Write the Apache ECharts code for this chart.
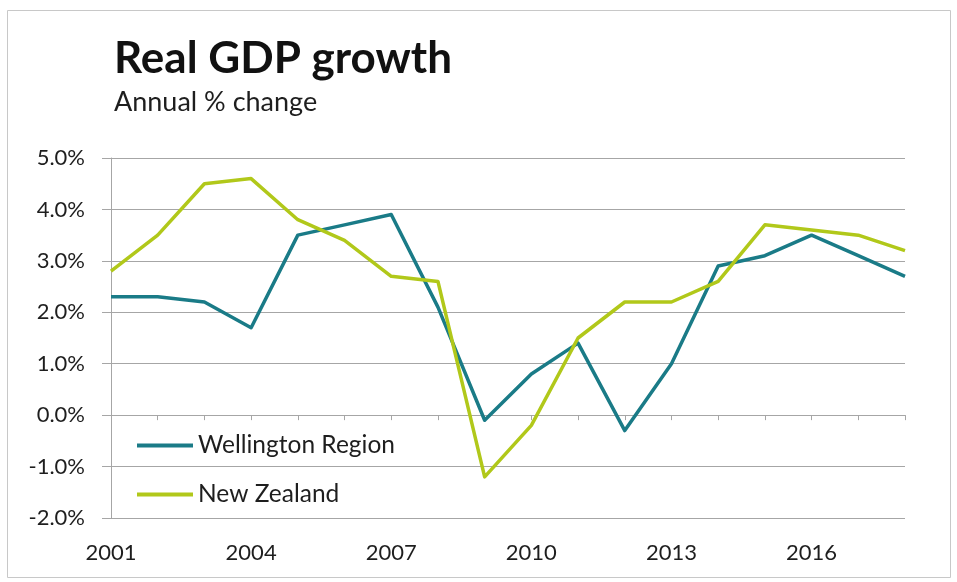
<!DOCTYPE html>
<html>
<head>
<meta charset="utf-8">
<script src="https://cdn.jsdelivr.net/npm/echarts@6/dist/echarts.min.js"></script>
<style>
  html, body { margin: 0; padding: 0; background: #ffffff; }
  #chart { width: 957px; height: 582px; }
</style>
</head>
<body>
<div id="chart"></div>
<script>
// Annual real GDP growth, % change on previous year
const years = ['2001','2002','2003','2004','2005','2006','2007','2008','2009',
               '2010','2011','2012','2013','2014','2015','2016','2017','2018'];
const wellington = [2.3, 2.3, 2.2, 1.7, 3.5, 3.7, 3.9, 2.1, -0.1,
                    0.8, 1.4, -0.3, 1.0, 2.9, 3.1, 3.5, 3.1, 2.7];
const newZealand = [2.8, 3.5, 4.5, 4.6, 3.8, 3.4, 2.7, 2.6, -1.2,
                    -0.2, 1.5, 2.2, 2.2, 2.6, 3.7, 3.6, 3.5, 3.2];
const seriesNames = ['Wellington Region', 'New Zealand'];

const FONT = 'Lato, "Open Sans", sans-serif';
const TEXT = '#1e1e1e';
const GRID = '#a6a6a6';

const chart = echarts.init(document.getElementById('chart'), null, { renderer: 'canvas' });

chart.setOption({
  backgroundColor: '#ffffff',
  animation: false,
  textStyle: { fontFamily: FONT, color: TEXT },
  graphic: [{
    type: 'rect',
    shape: { x: 7.5, y: 10.5, width: 943, height: 567 },
    style: { fill: 'none', stroke: '#c8c8c8', lineWidth: 1 },
    silent: true
  }],
  title: [
    {
      text: 'Real GDP growth',
      left: 114, top: 37, padding: 0,
      textStyle: { fontFamily: FONT, fontSize: 44, fontWeight: 'bold', color: '#111' }
    },
    {
      text: 'Annual % change',
      left: 114, top: 89, padding: 0,
      textStyle: { fontFamily: FONT, fontSize: 27, fontWeight: 'normal', color: TEXT }
    }
  ],
  legend: {
    orient: 'vertical',
    left: 137, top: 433, padding: 0,
    icon: 'rect',
    itemWidth: 56, itemHeight: 4,
    itemGap: 24,
    data: seriesNames,
    textStyle: { fontFamily: FONT, fontSize: 24.5, color: TEXT, lineHeight: 24, padding: [0, 0, 0, 0] }
  },
  grid: { left: 111, right: 52, top: 158, bottom: 64, containLabel: false },
  xAxis: [
    {
      type: 'category',
      data: years,
      boundaryGap: false,
      axisLine: { show: false, onZero: false },
      axisTick: { show: false },
      axisLabel: {
        interval: 2, margin: 24,
        fontFamily: FONT, fontSize: 22, color: TEXT
      },
      splitLine: { show: false }
    },
    {
      type: 'category',
      data: years,
      boundaryGap: false,
      position: 'bottom',
      axisLine: { show: true, onZero: true, lineStyle: { color: GRID, width: 1 } },
      axisTick: { show: true, inside: false, length: 5, interval: 0, lineStyle: { color: GRID } },
      axisLabel: { show: false },
      splitLine: { show: false }
    }
  ],
  yAxis: {
    type: 'value',
    min: -2, max: 5, interval: 1,
    axisLine: { show: true, lineStyle: { color: GRID, width: 1 } },
    axisTick: { show: true, length: 9, lineStyle: { color: GRID } },
    axisLabel: {
      margin: 26,
      fontFamily: FONT, fontSize: 22, color: TEXT,
      formatter: v => v.toFixed(1) + '%'
    },
    splitLine: { show: true, lineStyle: { color: GRID, width: 1 } }
  },
  series: [
    {
      name: seriesNames[0],
      type: 'line',
      data: wellington,
      xAxisIndex: 0,
      color: '#1a7b87',
      symbol: 'none',
      lineStyle: { width: 3.5, color: '#1a7b87', join: 'round' }
    },
    {
      name: seriesNames[1],
      type: 'line',
      data: newZealand,
      xAxisIndex: 0,
      color: '#b1c81a',
      symbol: 'none',
      lineStyle: { width: 3.5, color: '#b1c81a', join: 'round' }
    }
  ]
});
</script>
</body>
</html>
